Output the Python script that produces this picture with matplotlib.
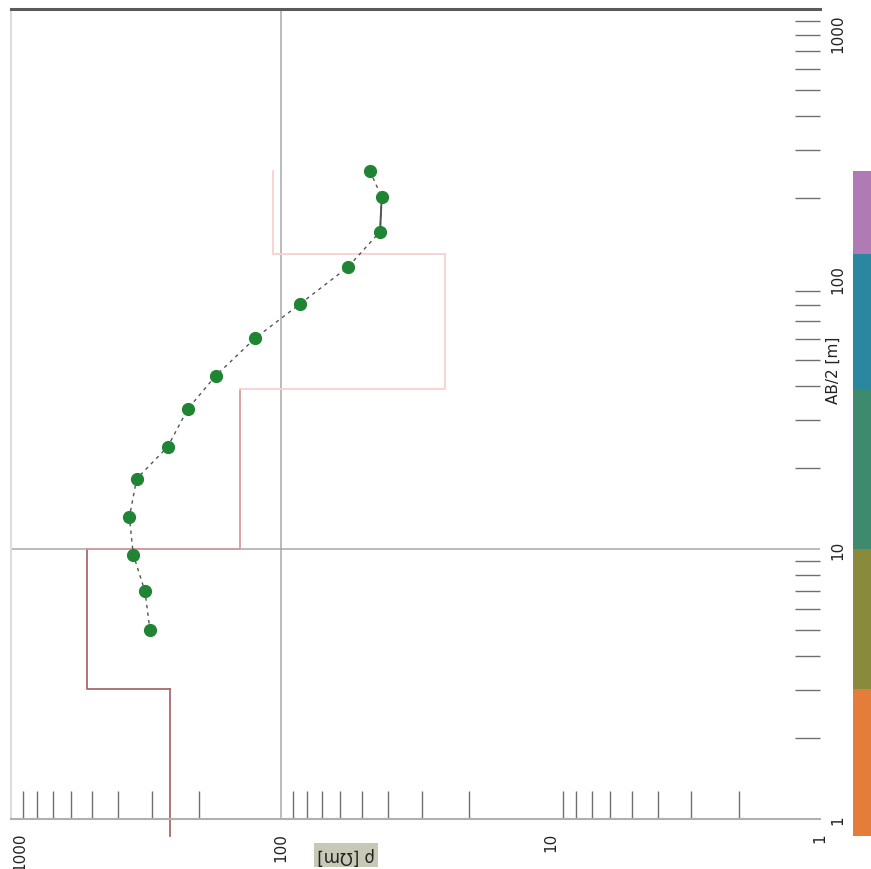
import matplotlib
matplotlib.use('Agg')
import matplotlib.pyplot as plt
import matplotlib.transforms as mtransforms
from matplotlib.ticker import LogLocator, NullFormatter, FixedLocator

# ---- data ----
ab2 = [251.8, 200.7, 149.7, 110.5, 80.8, 60.3, 43.8, 33.0, 23.9, 18.2, 13.1, 9.53, 6.97, 5.01]
rho_a = [46.7, 42.2, 42.8, 56.4, 84.8, 124.5, 174.2, 221, 262.5, 342, 364, 352, 318.6, 305.3]

layer_rho = [257, 523, 142, 24.6, 107]
layer_top = [0.865, 3.03, 10, 39.1, 123.8]
layer_bottom = [3.03, 10, 39.1, 123.8, 251]
layer_colors = ['#e57d3a', '#8a8a3c', '#3e8a6e', '#2a879f', '#b07ab5']
model_colors = ['#a86a6a', '#a86a6a', '#d49c9c', '#f8d0d0', '#f8d0d0']

rho_ticks = [1000, 100, 10, 1]
rho_tick_labels = ['1000', '100', '10', '1']
ab_ticks = [1, 10, 100, 1000]
ab_tick_labels = ['1', '10', '100', '1000']

FONT = ['Liberation Sans Narrow', 'DejaVu Sans Condensed', 'DejaVu Sans']
plt.rcParams['font.family'] = FONT

W, H = 871, 870
fig = plt.figure(figsize=(W / 100, H / 100), dpi=100)

def px(x0, y0, x1, y1):
    return [x0 / W, 1 - y1 / H, (x1 - x0) / W, (y1 - y0) / H]

ax = fig.add_axes(px(11, 10, 820, 820))
ax.set_xscale('log')
ax.set_yscale('log')
ax.set_xlim(1000, 1)
ax.set_ylim(1, 1000)

# grid lines (rho = 100, AB/2 = 10)
ax.axvline(rho_ticks[1], color='#a8a8a8', lw=1.1, zorder=1)
ax.axhline(ab_ticks[1], color='#a8a8a8', lw=1.1, zorder=1)

# spines
ax.spines['top'].set_color('#5a5a5a')
ax.spines['top'].set_linewidth(2.2)
ax.spines['left'].set_color('#dddddd')
ax.spines['left'].set_linewidth(1.5)
ax.spines['bottom'].set_color('#b0b0b0')
ax.spines['bottom'].set_linewidth(1.5)
ax.spines['right'].set_visible(False)

ax.yaxis.tick_right()
ax.xaxis.set_major_locator(FixedLocator(rho_ticks))
ax.yaxis.set_major_locator(FixedLocator(ab_ticks))
ax.xaxis.set_minor_locator(LogLocator(base=10, subs=range(2, 10)))
ax.yaxis.set_minor_locator(LogLocator(base=10, subs=range(2, 10)))
ax.xaxis.set_minor_formatter(NullFormatter())
ax.yaxis.set_minor_formatter(NullFormatter())
ax.tick_params(axis='both', which='major', length=0, labelbottom=False,
               labelright=False, labelleft=False)
ax.tick_params(axis='x', which='minor', direction='in', length=20, width=1,
               color='#707070')
ax.tick_params(axis='y', which='minor', direction='in', length=18, width=1,
               color='#707070', right=True, left=False)

# model (layered) line
for i in range(len(layer_rho)):
    xs, ys = [], []
    if i > 0:
        xs.append(layer_rho[i - 1]); ys.append(layer_top[i])
    xs += [layer_rho[i], layer_rho[i]]
    ys += [layer_top[i], layer_bottom[i]]
    ax.plot(xs, ys, color=model_colors[i], lw=1.3, clip_on=False, zorder=2)

# sounding curve
ax.plot(rho_a, ab2, color='#555555', lw=1.0, ls=(0, (2.5, 3)), zorder=3)
ax.plot(rho_a[1:3], ab2[1:3], color='#555555', lw=1.4, zorder=3)
ax.plot(rho_a, ab2, ls='none', marker='o', ms=8.5, color='#1f8534',
        mec='#1f8534', zorder=4)

# tick labels (manual, rotated)
def off(dx, dy):
    return mtransforms.ScaledTranslation(dx / 100, dy / 100, fig.dpi_scale_trans)

btr = mtransforms.blended_transform_factory(ax.transData, ax.transAxes)
for v, lab in zip(rho_ticks, rho_tick_labels):
    dx = 9 if lab == '1000' else 0
    ax.text(v, 0, lab, transform=btr + off(dx, -13), rotation=90,
            ha='center', va='top', fontsize=11, color='#222222', clip_on=False)

rtr = mtransforms.blended_transform_factory(ax.transAxes, ax.transData)
for v, lab in zip(ab_ticks, ab_tick_labels):
    dy = -24 if lab == '1000' else 0
    ax.text(1, v, lab, transform=rtr + off(10, dy), rotation=90,
            ha='left', va='center', fontsize=11, color='#222222', clip_on=False)

# axis titles
fig.text(833 / W, 1 - 370 / H, 'AB/2 [m]', rotation=90, ha='center',
         va='center', fontsize=11, color='#222222')
fig.text(346 / W, 1 - 856 / H, 'ρ [Ωm]', rotation=180, ha='center',
         va='center', fontsize=12, color='#222222',
         bbox=dict(boxstyle='square,pad=0.2', fc='#c8c8b6', ec='none'))

# layer colour bar
bax = fig.add_axes(px(853, 10, 871, 820))
bax.set_yscale('log')
bax.set_ylim(1, 1000)
bax.set_xlim(0, 1)
bax.axis('off')
for top, bot, c in zip(layer_top, layer_bottom, layer_colors):
    bax.fill_between([0, 1], top, bot, color=c, lw=0, clip_on=False)

fig.savefig('out.png', dpi=100)
